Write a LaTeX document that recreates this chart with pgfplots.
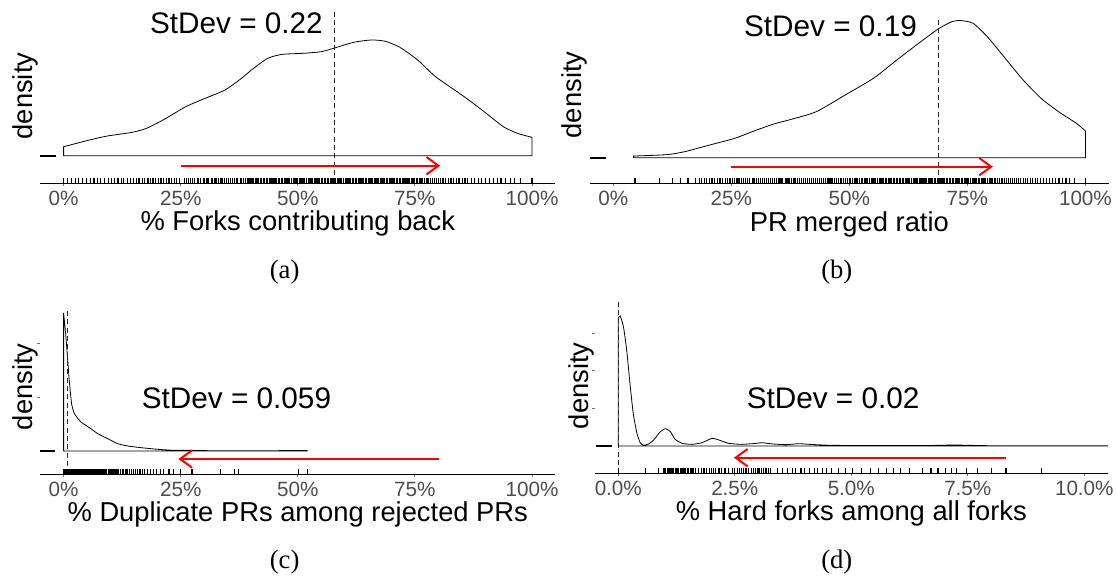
\documentclass[border=0pt]{standalone}
\usepackage{pgfplots}
\pgfplotsset{compat=1.18}
\usepackage{pgfplotstable}
\usepackage{fontspec}
\setmainfont{Liberation Sans}
\newfontfamily\capfont{Liberation Serif}
\usetikzlibrary{arrows.meta}

% rug positions (percent)
\pgfplotstableread[header=false,row sep=\\]{
0\\0.9\\1.7\\2.6\\3.2\\4.1\\4.9\\5.8\\6.5\\7.3\\7.9\\8.8\\9.6\\10.2\\10.9\\11.6\\12.3\\12.8\\13.6\\14.2\\14.9\\15.5\\16.1\\16.8\\17.3\\18.0\\18.6\\19.1\\19.7\\20.3\\20.8\\21.4\\21.9\\22.5\\23.0\\23.6\\24.1\\24.7\\
25.8\\26.2\\26.7\\27.1\\27.6\\28.0\\28.5\\28.8\\29.3\\29.8\\30.1\\30.6\\31.0\\31.5\\31.8\\32.3\\32.7\\33.1\\33.6\\34.0\\34.3\\34.8\\35.2\\35.6\\36.1\\36.4\\36.9\\37.2\\37.7\\38.0\\38.4\\38.9\\39.2\\39.6\\
40.0\\40.3\\40.6\\41.0\\41.3\\41.6\\42.0\\42.2\\42.6\\42.9\\43.3\\43.5\\43.9\\44.2\\44.5\\44.9\\45.2\\45.5\\45.8\\46.1\\46.5\\46.7\\47.1\\47.4\\47.7\\48.1\\48.3\\48.7\\49.0\\49.3\\49.6\\50.0\\50.3\\50.6\\50.9\\51.3\\51.5\\51.9\\52.2\\52.5\\52.8\\53.1\\53.5\\53.7\\54.1\\54.4\\54.7\\55.0\\55.3\\55.7\\55.9\\56.3\\56.6\\56.9\\57.2\\57.5\\57.9\\58.1\\58.5\\58.8\\59.1\\59.4\\59.7\\60.1\\60.3\\60.7\\61.0\\61.3\\61.6\\61.9\\62.3\\62.5\\62.9\\63.2\\63.5\\63.8\\64.1\\64.5\\64.7\\65.1\\65.4\\65.7\\66.0\\66.3\\66.7\\66.9\\67.3\\67.6\\67.9\\68.2\\68.5\\68.9\\69.1\\69.5\\69.8\\70.1\\70.4\\70.7\\71.1\\71.3\\71.7\\72.0\\72.3\\72.6\\72.9\\73.3\\73.6\\73.9\\74.3\\74.6\\74.9\\75.3\\75.6\\76.0\\76.3\\76.7\\77.0\\77.4\\77.8\\
78.3\\78.7\\79.2\\79.6\\80.1\\80.5\\81.0\\81.6\\82.1\\82.7\\83.2\\83.8\\84.4\\85.1\\85.7\\86.3\\87.0\\87.8\\88.5\\89.3\\90.0\\90.9\\91.7\\92.6\\93.4\\94.3\\95.4\\96.2\\97.5\\100\\100\\
}\rugA

\pgfplotstableread[header=false,row sep=\\]{
4.6\\4.7\\9.7\\12.6\\14.2\\15.8\\17.4\\18.2\\18.7\\19.3\\19.8\\20.4\\20.9\\21.5\\22.0\\22.6\\23.1\\23.7\\24.1\\24.7\\25.2\\25.7\\26.2\\26.6\\27.1\\27.6\\28.0\\28.5\\28.9\\29.4\\29.8\\30.3\\30.7\\31.2\\31.6\\32.0\\32.5\\32.9\\33.3\\33.8\\34.2\\34.6\\35.1\\35.5\\35.9\\36.4\\36.8\\37.2\\37.7\\38.1\\38.5\\39.0\\39.4\\39.8\\
40.3\\40.7\\41.1\\41.6\\42.0\\42.4\\42.8\\43.3\\43.7\\44.1\\44.5\\44.9\\45.3\\45.7\\46.1\\46.5\\46.9\\47.3\\47.7\\48.1\\48.4\\48.8\\49.2\\49.6\\50.0\\50.3\\50.7\\51.0\\51.4\\51.8\\52.1\\52.5\\52.8\\53.2\\53.5\\53.9\\54.2\\54.6\\54.9\\55.2\\55.6\\55.9\\56.3\\56.6\\56.9\\57.3\\57.6\\57.9\\58.3\\58.6\\58.9\\59.3\\59.6\\59.9\\
60.2\\60.6\\60.9\\61.2\\61.5\\61.9\\62.2\\62.5\\62.8\\63.2\\63.5\\63.8\\64.1\\64.4\\64.8\\65.1\\65.4\\65.7\\66.0\\66.4\\66.7\\67.0\\67.3\\67.6\\68.0\\68.3\\68.6\\68.9\\69.2\\69.6\\69.9\\70.2\\70.5\\70.8\\71.2\\71.5\\71.8\\72.1\\72.4\\72.8\\73.1\\73.4\\73.7\\74.0\\74.4\\74.7\\75.0\\75.3\\75.6\\76.0\\76.3\\76.6\\76.9\\77.3\\77.6\\77.9\\78.3\\78.6\\78.9\\79.3\\79.6\\
80.0\\80.3\\80.7\\81.0\\81.4\\81.8\\82.2\\82.5\\82.9\\83.3\\83.7\\84.1\\84.5\\85.0\\85.4\\85.9\\86.3\\86.8\\87.3\\87.8\\88.3\\88.8\\89.4\\89.9\\90.5\\91.1\\91.7\\92.4\\93.0\\93.7\\94.4\\95.1\\95.9\\96.7\\97.6\\100\\100\\
}\rugB

\pgfplotstableread[header=false,row sep=\\]{
0\\0.1\\0.3\\0.5\\0.6\\0.8\\1.0\\1.2\\1.3\\1.5\\1.7\\1.9\\2.0\\2.2\\2.4\\2.6\\2.8\\2.9\\3.1\\3.3\\3.5\\3.7\\3.8\\4.0\\4.2\\4.4\\4.6\\4.8\\4.9\\5.1\\5.3\\5.5\\5.7\\5.9\\6.1\\6.2\\6.4\\6.6\\6.8\\7.0\\7.2\\7.4\\7.6\\7.8\\8.0\\8.2\\8.4\\8.6\\8.8\\9.0\\9.2\\9.5\\9.7\\9.9\\10.1\\10.4\\10.6\\10.8\\11.1\\11.4\\
11.8\\12.1\\12.5\\12.8\\13.3\\13.6\\14.0\\14.5\\14.9\\15.4\\15.8\\16.3\\16.9\\17.3\\17.9\\18.6\\19.2\\19.9\\20.7\\21.4\\22.5\\23.5\\25.0\\27.3\\27.6\\33.5\\36.4\\37.4\\50.1\\52.0\\
}\rugC

\pgfplotstableread[header=false,row sep=\\]{
0\\0.005\\0.01\\0.58\\0.86\\0.97\\1.0\\1.02\\1.05\\1.08\\1.1\\1.13\\1.16\\1.19\\1.22\\1.24\\1.27\\1.3\\1.33\\1.36\\1.39\\1.42\\1.45\\1.48\\1.51\\1.55\\1.58\\1.62\\1.65\\1.72\\1.79\\1.84\\1.89\\1.96\\2.0\\2.04\\2.09\\2.16\\2.22\\2.29\\2.37\\2.45\\2.5\\2.55\\2.6\\2.64\\2.69\\2.74\\2.8\\2.85\\2.9\\2.94\\2.98\\3.02\\3.07\\3.12\\3.17\\3.22\\3.27\\3.42\\3.53\\3.63\\3.74\\3.81\\3.92\\3.99\\4.1\\4.21\\4.28\\4.38\\4.46\\4.57\\4.72\\4.87\\5.03\\5.22\\5.41\\5.59\\5.75\\5.91\\6.06\\6.25\\6.52\\6.71\\6.86\\7.02\\7.15\\7.25\\7.48\\7.7\\8.01\\8.32\\9.08\\
}\rugD

\pgfplotsset{
  dens/.style={
    scale only axis,
    clip=false,
    axis x line*=bottom,
    axis y line*=left,
    x axis line style={-, line width=0.6pt},
    y axis line style={draw=none},
    tick align=outside,
    major tick length=2.2pt,
    tick style={black!55, line width=0.6pt},
    ytick=\empty,
    yticklabels={},
    xticklabel style={font=\fontsize{15.5}{17}\selectfont, text=black!70},
    label style={font=\fontsize{20.5}{22}\selectfont},
    xlabel style={at={(axis description cs:0.5,0)}, anchor=center, yshift=-30.4pt},
  },
  curve/.style={black, line width=0.6pt, smooth, tension=0.4},
  rug/.style={only marks, mark=|, mark size=1.9pt, line width=0.9pt, black},
  zero/.style={black, line width=1.4pt, no marks},
  vline/.style={black!85, line width=0.6pt, dash pattern=on 3.75pt off 2.5pt},
  arr/.style={red, line width=1.5pt, -{Straight Barb[length=9pt, width=13pt]}},
}
\tikzset{sd/.style={font=\fontsize{22.3}{24}\selectfont}}

\begin{document}
\begin{tikzpicture}[x=0.75pt,y=0.75pt]
\useasboundingbox (0,0) rectangle (1117,578);

% (a)
\begin{axis}[dens, at={(30.15pt,296.03pt)}, anchor=south west,
  width=386.4pt, height=131.5pt,
  xmin=-5, xmax=105, ymin=-0.418, ymax=2.238,
  xtick={0,25,50,75,100}, xticklabels={0\%,25\%,50\%,75\%,100\%},
  xlabel={\% Forks contributing back}, ylabel={density},
  ylabel style={at={(axis description cs:0,0.498)}, anchor=center, yshift=11.4pt}]
\addplot[curve] coordinates {(0,0.136)(5.49,0.237)(9.30,0.298)(14.63,0.354)(17.68,0.414)(21.49,0.551)(26.07,0.742)(29.88,0.859)(34.45,0.995)(37.5,1.146)(40.55,1.323)(43.6,1.475)(46.65,1.535)(51.22,1.551)(55.03,1.576)(58.08,1.636)(61.89,1.717)(65.7,1.753)(68.75,1.732)(71.8,1.641)(75.61,1.449)(79.42,1.197)(85.52,0.894)(89.33,0.692)(93.9,0.439)(96.95,0.338)(100,0.278)} \closedcycle;
\addplot[rug] table[x index=0, y index=0, y expr=-0.38] {\rugA};
\addplot[zero] coordinates {(-5,0)(-1.6,0)};
\addplot[vline] coordinates {(57.9,-0.418)(57.9,2.208)};
\addplot[arr] coordinates {(25,-0.152)(80.4,-0.152)};
\node[sd] at (axis cs:36.9,2.006) {StDev = 0.22};
\end{axis}

% (b)
\begin{axis}[dens, at={(442.28pt,296.03pt)}, anchor=south west,
  width=389.5pt, height=131.5pt,
  xmin=-5, xmax=105, ymin=-0.449, ymax=2.626,
  xtick={0,25,50,75,100}, xticklabels={0\%,25\%,50\%,75\%,100\%},
  xlabel={PR merged ratio}, ylabel={density},
  xlabel style={yshift=-0.6pt},
  ylabel style={at={(axis description cs:0,0.504)}, anchor=center, yshift=11.55pt}]
\addplot[curve] coordinates {(4.3,0.029)(11.3,0.053)(15.1,0.105)(20.4,0.222)(25.7,0.339)(29.4,0.456)(34.0,0.591)(37.7,0.673)(43.0,0.807)(49.1,1.099)(55.1,1.392)(59.6,1.684)(64.2,1.977)(68.7,2.251)(71.7,2.386)(73.6,2.404)(76.2,2.357)(79.2,2.123)(83.0,1.743)(86.8,1.363)(90.6,1.041)(94.3,0.807)(98.1,0.602)(100,0.468)} \closedcycle;
\addplot[rug] table[x index=0, y index=0, y expr=-0.407] {\rugB};
\addplot[zero] coordinates {(-4.85,0)(-1.46,0)};
\addplot[vline] coordinates {(68.8,-0.449)(68.8,2.446)};
\addplot[arr] coordinates {(24.9,-0.158)(80.4,-0.158)};
\node[sd] at (axis cs:46.0,2.298) {StDev = 0.19};
\end{axis}

% (c)
\begin{axis}[dens, at={(30.15pt,77.78pt)}, anchor=south west,
  width=386.4pt, height=127pt,
  xmin=-5, xmax=105, ymin=-4.34, ymax=27.2,
  xtick={0,25,50,75,100}, xticklabels={0\%,25\%,50\%,75\%,100\%},
  ytick={10,20}, yticklabels={},
  xlabel={\% Duplicate PRs among rejected PRs}, ylabel={density},
  ylabel style={at={(axis description cs:0,0.517)}, anchor=center, yshift=11.4pt}]
\addplot[curve, tension=0.3] coordinates {(0,25.7)(0.5,21.2)(1.2,13.2)(1.7,8.82)(2.3,6.96)(3.7,5.40)(5.8,4.16)(7.3,3.23)(9.4,2.30)(11.5,1.37)(13.7,0.93)(16.5,0.62)(20.1,0.31)(23.6,0.12)(27.2,0.12)(31,0.06)(40,0.05)(52,0.08)} \closedcycle;
\addplot[rug] table[x index=0, y index=0, y expr=-3.86] {\rugC};
\addplot[zero] coordinates {(-5,0)(-1.8,0)};
\addplot[vline] coordinates {(0.76,-4.34)(0.76,26.3)};
\addplot[arr] coordinates {(80.2,-1.49)(24.5,-1.49)};
\node[sd] at (axis cs:36.9,9.82) {StDev = 0.059};
\end{axis}

% (d)
\begin{axis}[dens, at={(446.25pt,78.53pt)}, anchor=south west,
  width=384.45pt, height=131.5pt,
  xmin=-0.5, xmax=10.5, ymin=-36.2, ymax=196.5,
  xtick={0,2.5,5,7.5,10}, xticklabels={0.0\%,2.5\%,5.0\%,7.5\%,10.0\%},
  ytick={50,100,150}, yticklabels={},
  xlabel={\% Hard forks among all forks}, ylabel={density},
  ylabel style={at={(axis description cs:0,0.499)}, anchor=center, yshift=10.2pt}]
\addplot[curve, tension=0.3] coordinates {(0,169.5)(0.04,172.6)(0.11,158.4)(0.18,127.4)(0.25,83.2)(0.32,43.4)(0.40,16.8)(0.47,4.4)(0.54,0.9)(0.65,2.7)(0.76,8.0)(0.90,19.0)(1.01,23.0)(1.12,19.0)(1.22,8.8)(1.37,3.5)(1.58,2.2)(1.80,4.4)(2.01,10.2)(2.16,8.0)(2.37,3.5)(2.66,2.2)(2.95,3.5)(3.09,4.4)(3.31,2.7)(3.60,1.8)(3.88,3.1)(4.10,2.2)(4.60,0.9)(5.5,0.7)(6.5,0.5)(7.2,1.3)(8,0.4)(9,0.3)(10.5,0.2)} \closedcycle;
\addplot[rug] table[x index=0, y index=0, y expr=-32.1] {\rugD};
\addplot[zero] coordinates {(-0.48,0)(-0.14,0)};
\addplot[vline] coordinates {(0,-36.2)(0,191.6)};
\addplot[arr] coordinates {(8.32,-15.5)(2.48,-15.5)};
\node[sd] at (axis cs:4.61,63.3) {StDev = 0.02};
\end{axis}

\node[font=\capfont\fontsize{20}{22}\selectfont] at (284.6,306.3) {(a)};
\node[font=\capfont\fontsize{20}{22}\selectfont] at (836.8,306.3) {(b)};
\node[font=\capfont\fontsize{20}{22}\selectfont] at (284.6,16.3) {(c)};
\node[font=\capfont\fontsize{20}{22}\selectfont] at (836.8,16.3) {(d)};
\end{tikzpicture}
\end{document}
